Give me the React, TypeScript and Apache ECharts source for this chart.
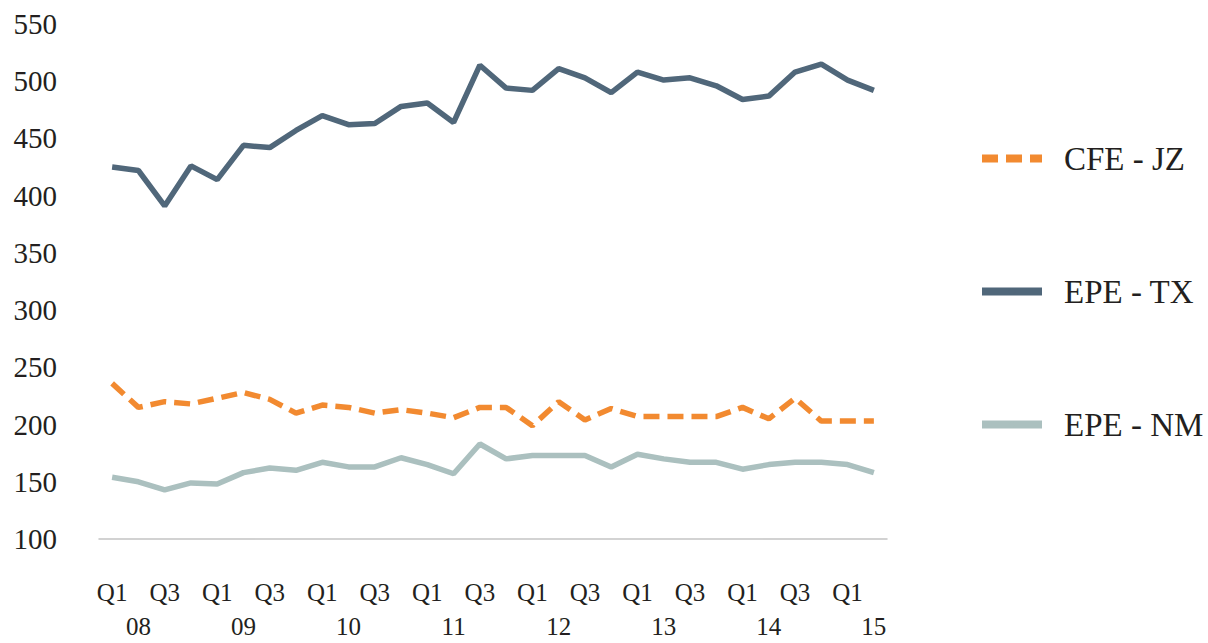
import React, { useEffect, useRef } from "react";
import * as echarts from "echarts";

const CATEGORIES = [
  "Q1 08", "Q2 08", "Q3 08", "Q4 08",
  "Q1 09", "Q2 09", "Q3 09", "Q4 09",
  "Q1 10", "Q2 10", "Q3 10", "Q4 10",
  "Q1 11", "Q2 11", "Q3 11", "Q4 11",
  "Q1 12", "Q2 12", "Q3 12", "Q4 12",
  "Q1 13", "Q2 13", "Q3 13", "Q4 13",
  "Q1 14", "Q2 14", "Q3 14", "Q4 14",
  "Q1 15", "Q2 15",
];

const CFE_JZ = [236, 215, 220, 218, 223, 228, 222, 210, 217, 215, 210, 213, 210, 206, 215, 215, 199, 220, 204, 214, 207, 207, 207, 207, 215, 205, 223, 203, 203, 203];
const EPE_TX = [425, 422, 391, 426, 414, 444, 442, 457, 470, 462, 463, 478, 481, 464, 514, 494, 492, 511, 503, 490, 508, 501, 503, 496, 484, 487, 508, 515, 501, 492];
const EPE_NM = [154, 150, 143, 149, 148, 158, 162, 160, 167, 163, 163, 171, 165, 157, 183, 170, 173, 173, 173, 163, 174, 170, 167, 167, 161, 165, 167, 167, 165, 158];

const Y_MIN = 100;
const Y_MAX = 550;
const Y_STEP = 50;

const FONT = "'Liberation Serif', 'DejaVu Serif', serif";
const TEXT = "#231f20";

export default function App() {
  const ref = useRef<HTMLDivElement>(null);
  useEffect(() => {
    const chart = echarts.init(ref.current!, null, { renderer: "svg" });
    chart.setOption({
      animation: false,
      backgroundColor: "#ffffff",
      textStyle: { fontFamily: FONT, color: TEXT },
      grid: { left: 99, right: 321, top: 24, bottom: 103, containLabel: false },
      legend: {
        orient: "vertical",
        left: 973,
        top: 135,
        itemWidth: 60,
        itemHeight: 8,
        itemGap: 96,
        lineStyle: { width: 8 },
        textStyle: {
          fontFamily: FONT,
          fontSize: 33,
          color: TEXT,
          lineHeight: 37,
          padding: [0, 0, 0, 17],
        },
        data: ["CFE - JZ", "EPE - TX", "EPE - NM"],
      },
      xAxis: {
        type: "category",
        data: CATEGORIES,
        boundaryGap: true,
        axisLine: { show: true, lineStyle: { color: "#c4c4c4", width: 1.5 } },
        axisTick: { show: false },
        splitLine: { show: false },
        axisLabel: {
          interval: 0,
          margin: 36,
          fontFamily: FONT,
          fontSize: 25,
          lineHeight: 34,
          color: TEXT,
          formatter: (v: string) => {
            const [q, y] = v.split(" ");
            if (q === "Q1" || q === "Q3") return q;
            if (q === "Q2") return "\n" + y;
            return "";
          },
        },
      },
      yAxis: {
        type: "value",
        min: Y_MIN,
        max: Y_MAX,
        interval: Y_STEP,
        axisLine: { show: false },
        axisTick: { show: false },
        splitLine: { show: false },
        axisLabel: {
          margin: 42,
          fontFamily: FONT,
          fontSize: 29,
          color: TEXT,
        },
      },
      series: [
        {
          name: "CFE - JZ",
          type: "line",
          data: CFE_JZ,
          symbol: "none",
          lineStyle: { color: "#f28a30", width: 5.5, type: [16, 8] },
          itemStyle: { color: "#f28a30" },
        },
        {
          name: "EPE - TX",
          type: "line",
          data: EPE_TX,
          symbol: "none",
          lineStyle: { color: "#50677a", width: 5.5 },
          itemStyle: { color: "#50677a" },
        },
        {
          name: "EPE - NM",
          type: "line",
          data: EPE_NM,
          symbol: "none",
          lineStyle: { color: "#abc0bf", width: 5.5 },
          itemStyle: { color: "#abc0bf" },
        },
      ],
    });
    return () => chart.dispose();
  }, []);
  return (
    <div
      ref={ref}
      style={{ position: "fixed", left: 0, top: 0, width: 1208, height: 643, background: "#fff" }}
    />
  );
}
